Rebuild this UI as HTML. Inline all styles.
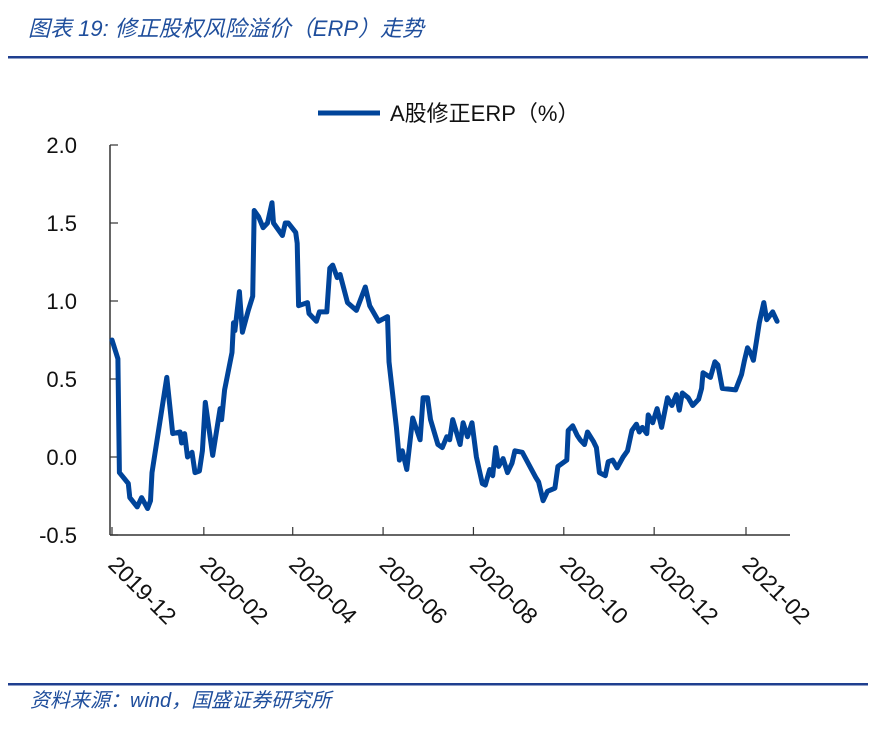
<!DOCTYPE html>
<html><head><meta charset="utf-8"><style>
body{margin:0;background:#fff;width:875px;height:728px;overflow:hidden;font-family:"Liberation Sans","Noto Sans CJK SC",sans-serif}
</style></head><body>
<svg width="875" height="728" xmlns="http://www.w3.org/2000/svg">
<text x="28" y="36" font-size="22" font-style="italic" fill="#1f4e9c" font-family="'Liberation Sans','Noto Sans CJK SC',sans-serif">图表 19:  修正股权风险溢价（ERP）走势</text>
<rect x="8" y="56" width="860" height="2.5" fill="#1f3f8f"/>
<line x1="318" y1="113" x2="380" y2="113" stroke="#00449a" stroke-width="5"/>
<text x="390" y="121" font-size="22" fill="#111">A股修正ERP（%）</text>
<g id="axes"></g>
<g id="series"></g>
<rect x="8" y="683" width="860" height="2.5" fill="#1f3f8f"/>
<text x="30" y="707" font-size="20" font-style="italic" fill="#1f4e9c">资料来源：wind，国盛证券研究所</text>
</svg>
<script>
const days=[0,4,5,11,12,17,20,24,26,27,37,41,46,47,49,51,54,56,59,61,63,68,73,74,76,81,82,83,86,88,92,95,96,99,102,105,108,109,115,117,119,124,125,126,132,133,138,140,145,147,149,152,154,159,165,171,174,180,186,187,192,194,196,199,203,208,210,213,215,220,223,226,228,230,235,237,240,243,246,250,252,255,257,259,261,264,267,270,272,277,286,288,291,294,299,301,307,308,311,314,316,319,321,325,327,329,333,335,338,341,345,348,351,354,356,358,361,362,365,368,371,375,378,381,383,385,389,392,396,398,399,404,407,409,412,421,425,427,429,431,433,435,437,440,442,446,449];
const values=[0.75,0.63,-0.10,-0.17,-0.26,-0.32,-0.26,-0.33,-0.28,-0.10,0.51,0.15,0.16,0.09,0.15,0.0,0.03,-0.10,-0.09,0.04,0.35,0.01,0.31,0.24,0.43,0.67,0.86,0.81,1.06,0.80,0.94,1.03,1.58,1.54,1.47,1.50,1.63,1.50,1.42,1.50,1.50,1.44,1.37,0.97,0.99,0.92,0.87,0.93,0.93,1.21,1.23,1.15,1.17,0.99,0.94,1.09,0.97,0.87,0.90,0.61,0.19,-0.02,0.04,-0.08,0.25,0.11,0.38,0.38,0.24,0.08,0.06,0.13,0.11,0.24,0.08,0.22,0.13,0.22,0.0,-0.17,-0.18,-0.08,-0.12,0.06,-0.06,-0.01,-0.10,-0.04,0.04,0.03,-0.13,-0.16,-0.28,-0.22,-0.20,-0.06,-0.02,0.17,0.20,0.14,0.11,0.08,0.16,0.10,0.06,-0.10,-0.12,-0.03,-0.02,-0.07,0.0,0.04,0.17,0.21,0.16,0.19,0.15,0.27,0.22,0.31,0.19,0.38,0.33,0.40,0.30,0.41,0.38,0.33,0.37,0.44,0.54,0.51,0.61,0.59,0.44,0.43,0.53,0.62,0.70,0.67,0.62,0.74,0.86,0.99,0.88,0.93,0.87];
const yTicks=[2.0,1.5,1.0,0.5,0.0,-0.5];
const xTickLabels=["2019-12","2020-02","2020-04","2020-06","2020-08","2020-10","2020-12","2021-02"];
const xTickDays=[0,62,122,183,244,305,366,428];
const NS="http://www.w3.org/2000/svg";
const xS=d=>112+d*(634/428);
const yS=v=>457-v*156;
const ax=document.getElementById('axes');
function mk(t,a,p){const e=document.createElementNS(NS,t);for(const k in a)e.setAttribute(k,a[k]);p.appendChild(e);return e;}
const yl=mk('line',{x1:110,y1:145,x2:110,y2:535,stroke:'#333','stroke-width':1.5},ax);


const xl=mk('line',{x1:110,y1:535,x2:790,y2:535,stroke:'#333','stroke-width':1.5},ax);


yTicks.forEach(v=>{
 const y=yS(v);
 mk('line',{x1:110,y1:y,x2:118,y2:y,stroke:'#333','stroke-width':1.2},ax);
 const t=mk('text',{x:77,y:y+8,'font-size':22,'text-anchor':'end',fill:'#111'},ax);
 t.textContent=v.toFixed(1);
 
 
});
xTickDays.forEach((d,i)=>{
 const x=xS(d);
 mk('line',{x1:x,y1:527,x2:x,y2:535,stroke:'#333','stroke-width':1.2},ax);
 const t=mk('text',{x:x-5,y:566,'font-size':23,fill:'#111',transform:`rotate(45 ${x-5} 566)`},ax);
 t.textContent=xTickLabels[i];
 
 
});
const pts=days.map((d,i)=>xS(d).toFixed(1)+','+yS(values[i]).toFixed(1)).join(' ');
const pl=mk('polyline',{points:pts,fill:'none',stroke:'#00449a','stroke-width':5,'stroke-linejoin':'round','stroke-linecap':'round'},document.getElementById('series'));


</script>
</body></html>
